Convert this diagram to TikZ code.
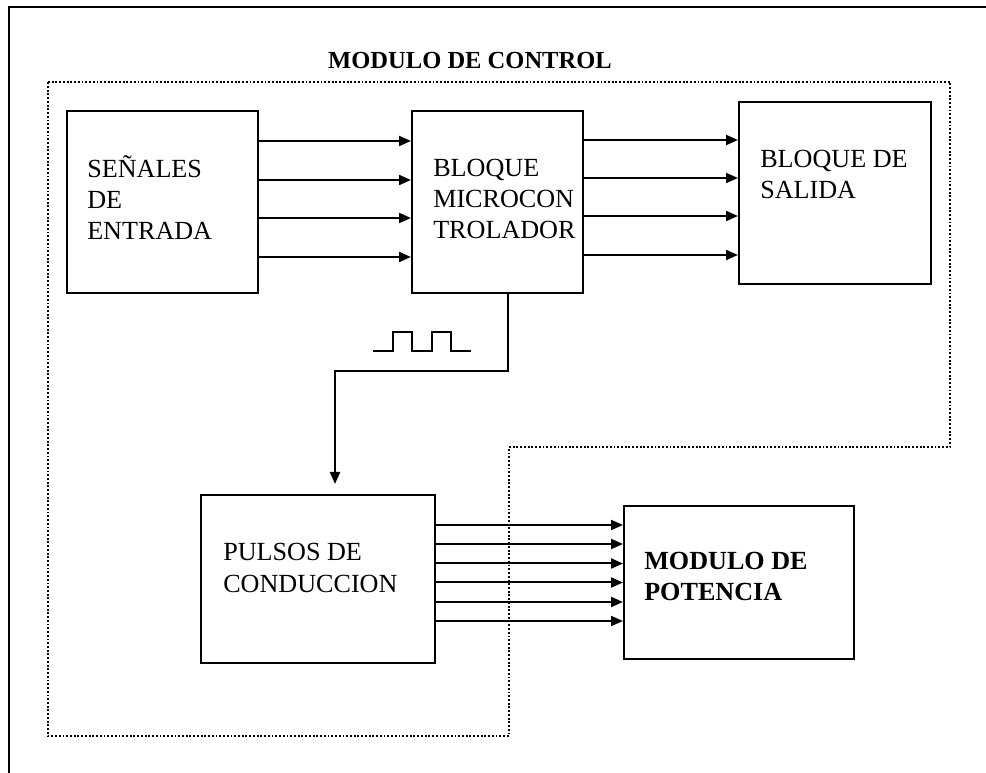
\documentclass[tikz,border=0pt]{standalone}
\usepackage{fontspec}
\setmainfont{Liberation Serif}
\usetikzlibrary{arrows.meta,calc}

\begin{document}
\begin{tikzpicture}[x=0.75pt,y=-0.75pt,
  box/.style={draw, line width=1.5pt, inner sep=0pt},
  lbl/.style={anchor=base west, inner sep=0pt, align=left,
    font=\fontsize{19.6}{23.6}\selectfont},
  sig/.style={line width=1.5pt, -{Triangle[length=9pt,width=7.5pt]}}]
\useasboundingbox (0,0) rectangle (986,773);
\clip (0,0) rectangle (986,773);
\draw [line width=1.6pt] (9,790) -- (9,7) -- (1000,7);
%
\node [font=\bfseries\fontsize{18.4}{22}\selectfont, anchor=base] (title) at (470,69) {MODULO DE CONTROL};
\draw [line width=1.2pt, dash pattern=on 1.4pt off 1.4pt] (48,82) -- (950,82) -- (950,447) -- (509,447) -- (509,736) -- (48,736) -- cycle;
%
\node [box, minimum width=143.25pt, minimum height=136.5pt] (senales) at (162.5,202) {};
\node [box, minimum width=128.25pt, minimum height=136.5pt] (micro) at (497.5,202) {};
\node [box, minimum width=144pt, minimum height=136.5pt] (salida) at (835,193) {};
\node [box, minimum width=175.5pt, minimum height=126pt] (pulsos) at (318,579) {};
\node [box, minimum width=172.5pt, minimum height=114.75pt] (potencia) at (739,582.5) {};
%
% labels are anchored at the baseline of their last line
\node [lbl] (senales-txt) at (87,240) {SEÑALES\\DE\\ENTRADA};
\node [lbl] (micro-txt) at (433,239) {BLOQUE\\MICROCON\\TROLADOR};
\node [lbl] (salida-txt) at (760,198.5) {BLOQUE DE\\SALIDA};
\node [lbl] (pulsos-txt) at (223,592) {PULSOS DE\\CONDUCCION};
\node [lbl, font=\bfseries\fontsize{19.6}{23.6}\selectfont] (potencia-txt) at (644,600.5) {MODULO DE\\POTENCIA};
%
\foreach \y in {141,180,218,257}
  \draw [sig] (senales.east |- 0,\y) -- (micro.west |- 0,\y);
\foreach \y in {140,178,216,255}
  \draw [sig] (micro.east |- 0,\y) -- (salida.west |- 0,\y);
\foreach \y in {525,544,563.5,582.5,602,621}
  \draw [sig] (pulsos.east |- 0,\y) -- (potencia.west |- 0,\y);
%
\coordinate (pulsos-in) at ($(pulsos.north west)+(135,-10)$);
\draw [sig] ($(micro.south west)+(97,0)$) -- ++(0,77) -| (pulsos-in);
%
\draw [line width=1.1pt] (373,351) -- (393,351) -- (393,332) -- (412,332) -- (412,351) -- (432,351) -- (432,332) -- (451,332) -- (451,351) -- (471,351);
%%%%%%%%%%%%%%%%%%%%%%%%%%%%%%%
\end{tikzpicture}
\end{document}
